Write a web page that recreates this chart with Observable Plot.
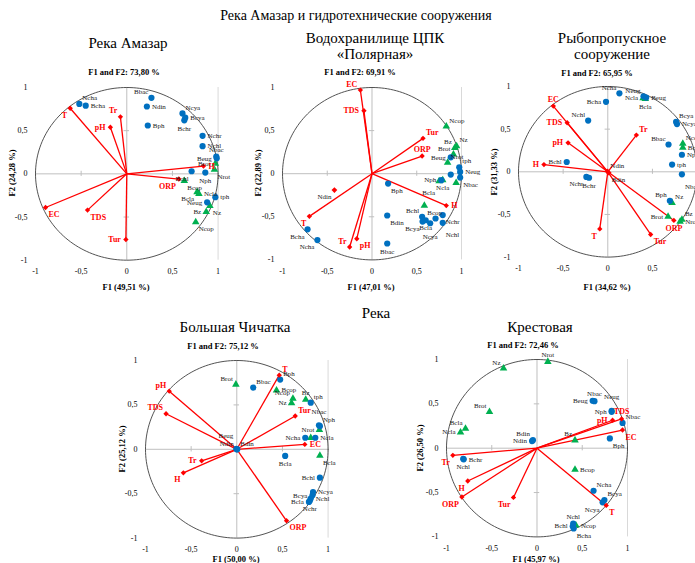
<!DOCTYPE html>
<html><head><meta charset="utf-8">
<script src="https://cdn.jsdelivr.net/npm/d3@7"></script>
<script src="https://cdn.jsdelivr.net/npm/@observablehq/plot@0.6"></script>
<style>
html,body{margin:0;padding:0;background:#fff;overflow:hidden}
#root{position:relative;width:695px;height:563px;overflow:hidden;font-family:"Liberation Serif","Times New Roman","DejaVu Serif",serif}
.t{position:absolute;white-space:nowrap;transform:translate(-50%,-50%);color:#000;line-height:1}
.r{position:absolute;white-space:nowrap;transform:translate(-50%,-50%) rotate(-90deg);color:#000;line-height:1;font-weight:bold;font-size:8.5px}
</style></head><body><div id="root"></div>
<script>
// ---------- titles ----------
const mainTitle = "Река Амазар и гидротехнические сооружения";
const riverTitle = "Река";
const panelHeads = [["Река Амазар"],["Водохранилище ЦПК","«Полярная»"],["Рыбопропускное","сооружение"],["Большая Чичатка"],["Крестовая"]];
const panelSubs = ["F1 and F2: 73,80 %","F1 and F2: 69,91 %","F1 and F2: 65,95 %","F1 and F2: 75,12 %","F1 and F2: 72,46 %"];
const xTitles = ["F1 (49,51 %)","F1 (47,01 %)","F1 (34,62 %)","F1 (50,00 %)","F1 (45,97 %)"];
const yTitles = ["F2 (24,28 %)","F2 (22,89 %)","F2 (31,33 %)","F2 (25,12 %)","F2 (26,50 %)"];
const tickValues = [-1,-0.5,0,0.5,1];

// ---------- Panel 1: Река Амазар ----------
const amazarVars = [["T",-0.62,0.76],["Tr",-0.07,0.66],["pH",-0.18,0.54],["H",0.84,0.09],["ORP",0.57,-0.06],["EC",-0.89,-0.39],["TDS",-0.43,-0.42],["Tur",-0.01,-0.76]];
const amazarVarsLab = ["bl","tl","l","r","bl","br","br","l"];
const amazarRed = [];
const amazarRedLab = [];
const amazarPhyto = [["Ncha",-0.52,0.81],["Bcha",-0.45,0.79],["Bbac",0.27,0.88],["Ndin",0.22,0.78],["Bph",0.23,0.56],["Ncya",0.61,0.70],["Bcya",0.64,0.65],["Bchr",0.63,0.62],["Nchr",0.83,0.44],["Nchl",0.83,0.32],["Nbac",0.98,0.20],["Beug",0.985,0.18],["Bchl",0.71,0.03],["Nph",0.86,0.015],["tph",0.97,-0.27],["Neug",0.88,-0.33]];
const amazarPhytoLab = ["tr","r","tl","r","r","tr","r","b","r","r","t","l","bl","b","r","l"];
const amazarZoo = [["Brot",0.97,0.12],["Nrot",0.96,0.05],["Bcop",0.63,-0.08],["Bcla",0.77,-0.21],["Ncla",0.79,-0.23],["Nz",0.91,-0.37],["Bz",0.87,-0.44],["Ncop",0.755,-0.56]];
const amazarZooLab = ["l","br","br","bl","r","br","l","br"];

// ---------- Panel 2: Водохранилище ЦПК «Полярная» ----------
const polarVars = [["EC",-0.13,0.97],["TDS",-0.09,0.73],["Tur",0.57,0.41],["ORP",0.56,0.205],["H",0.83,-0.37],["T",-0.70,-0.495],["Tr",-0.25,-0.85],["pH",-0.17,-0.755]];
const polarVarsLab = ["tl","l","tr","t","r","bl","tl","br"];
const polarRed = [["Ndin",-0.42,-0.19]];
const polarRedLab = ["bl"];
const polarPhyto = [["Bcha",-0.72,-0.645],["Ncha",-0.61,-0.77],["Bph",0.18,-0.115],["Bdin",0.17,-0.485],["Bbac",0.17,-0.81],["Beug",0.88,0.19],["tph",0.975,0.075],["Neug",0.985,0.02],["Nbac",0.985,-0.045],["",0.88,-0.01],["Nph",0.775,-0.075],["Bchl",0.56,-0.50],["Bcya",0.565,-0.555],["Bcla",0.60,-0.54],["Ncya",0.65,-0.575],["",0.71,-0.52],["Nchr",0.79,-0.48],["Nchl",0.79,-0.57]];
const polarPhytoLab = ["bl","bl","br","br","b","l","tr","r","br","","l","tl","bl","b","b2","","br","br2"];
const polarZoo = [["Ncop",0.83,0.55],["Bz",0.925,0.30],["Nz",0.945,0.32],["Brot",0.91,0.225],["Nrot",0.845,0.13],["Ncla",0.79,-0.075],["Bcla",0.75,-0.085],["",0.94,-0.105],["Bcop",0.585,-0.37]];
const polarZooLab = ["tr","tl","tr","tl","tr","b","bl2","","br"];

// ---------- Panel 3: Рыбопропускное сооружение ----------
const rybVars = [["EC",-0.61,0.77],["TDS",-0.455,0.575],["pH",-0.445,0.34],["H",-0.715,0.085],["Tr",0.32,0.43],["T",-0.09,-0.67],["Tur",0.48,-0.735],["ORP",0.74,-0.57]];
const rybVarsLab = ["t","l","l","l","tr","bl","br","b"];
const rybRed = [["Ndin",-0.005,0.005],["Bdin",0.01,-0.01]];
const rybRedLab = ["tr","br"];
const rybPhyto = [["Ncha",0.13,0.92],["Neug",0.40,0.885],["Beug",0.43,0.87],["Bcha",-0.02,0.82],["Nchl",-0.22,0.60],["Bchl",-0.46,0.115],["Nchr",-0.24,-0.06],["Bchr",-0.21,-0.07],["Bcya",0.765,0.585],["Ncya",0.775,0.56],["Bbac",0.68,0.32],["Nph",0.83,0.20],["tph",0.72,0.085],["Nbac",0.83,-0.03],["Bph",0.695,-0.34]];
const rybPhytoLab = ["tl","tl","r","l","tl","l","bl","b","tr","r","tl","r","r","br2","tl"];
const rybZoo = [["Ncla",0.395,0.865],["Bcla",0.42,0.855],["Ncop",0.84,0.33],["Bcop",0.84,0.285],["Nz",0.72,-0.365],["Brot",0.675,-0.525],["Bz",0.83,-0.56],["Nrot",0.81,-0.585]];
const rybZooLab = ["l","b","tr","r","tr","l","tr","r"];

// ---------- Panel 4: Большая Чичатка ----------
const chichVars = [["T",0.465,0.835],["pH",-0.74,0.655],["TDS",-0.775,0.40],["Tur",0.64,0.375],["EC",0.745,0.055],["Tr",-0.385,-0.13],["H",-0.585,-0.265],["ORP",0.545,-0.805]];
const chichVarsLab = ["tr","tl","tl","tr","r","l","bl","br"];
const chichRed = [];
const chichRedLab = [];
const chichPhyto = [["Bbac",0.18,0.695],["Bph",0.475,0.785],["tph",0.81,0.525],["Nph",0.91,0.26],["Nbac",0.90,0.27],["Ncha",0.75,0.13],["Ncla",0.86,0.13],["Bcla",0.53,-0.075],["Bchl",0.91,-0.32],["Ncya",0.835,-0.481],["Bcya",0.829,-0.518],["Nchl",0.81,-0.555],["Nchr",0.80,-0.58],["Bcla",0.79,-0.593],["Beug",-0.005,0.005],["Ndin",0,0],["Bdin",0.005,0]];
const chichPhytoLab = ["tr","tr","tr","tr","t2","l","r","b","l","r","l","r","b","l","tl2","tl","tr"];
const chichZoo = [["Brot",-0.01,0.73],["Bcop",0.435,0.665],["Ncop",0.615,0.57],["Nz",0.60,0.52],["Bz",0.755,0.56],["Nrot",0.905,0.22],["",0.81,0.13],["Bcla",0.91,-0.07]];
const chichZooLab = ["tl","r","tl","l","t","l","","br"];

// ---------- Panel 5: Крестовая ----------
const krestVars = [["Tr",-0.93,-0.08],["H",-0.765,-0.37],["ORP",-0.83,-0.55],["Tur",-0.26,-0.555],["T",0.765,-0.645],["pH",0.835,0.315],["TDS",0.935,0.33],["EC",0.945,0.205]];
const krestVarsLab = ["bl","bl","bl","bl","br","l","t","br"];
const krestRed = [];
const krestRedLab = [];
const krestPhyto = [["Beug",0.615,0.535],["Nbac",0.635,0.53],["Neug",0.825,0.42],["Nph",0.825,0.41],["Nbac",0.945,0.285],["Bph",0.805,0.11],["Ndin",-0.055,0.08],["Bdin",-0.045,0.09],["Bchr",-0.81,-0.125],["Nchl",-0.815,-0.12],["Ncha",0.625,-0.48],["Bcya",0.745,-0.585],["Ncya",0.725,-0.61],["Nchl",0.40,-0.85],["Bchl",0.395,-0.88],["Bcha",0.405,-0.905]];
const krestPhytoLab = ["l","t","t2","l","tr","br","l","tl","r","b","tr","tr","bl","t","l","br"];
const krestZoo = [["Nz",-0.37,0.90],["Nrot",0.12,0.975],["Brot",-0.525,0.41],["Bcla",-0.79,0.22],["Ncla",-0.845,0.18],["Bz",0.42,0.09],["Bcop",0.42,-0.24],["Ncop",0.43,-0.87]];
const krestZooLab = ["tl","t","tl","tl","l","tl","r","r"];

// ---------- layout ----------
const layout = [
  {px:[34.7,217.3], py:[87,259.7],  head:[128,43],  sub:[124,72],  xt:[126,287], yt:[12,173]},
  {px:[281.5,460.5],py:[86.5,258.9],head:[375,38],  sub:[360,72],  xt:[371,287], yt:[258,173]},
  {px:[518,696.6],  py:[86.4,257],  head:[612,38],  sub:[597,73],  xt:[607,287], yt:[494,172]},
  {px:[144.7,327.3],py:[360.2,537.8],head:[235,327],sub:[223,346], xt:[236,559], yt:[122,449]},
  {px:[445.5,626.5],py:[359.3,536.7],head:[540,327],sub:[523,345], xt:[536,559], yt:[420,448]}
];
const panelData = [
  [amazarVars,amazarVarsLab,amazarRed,amazarRedLab,amazarPhyto,amazarPhytoLab,amazarZoo,amazarZooLab],
  [polarVars,polarVarsLab,polarRed,polarRedLab,polarPhyto,polarPhytoLab,polarZoo,polarZooLab],
  [rybVars,rybVarsLab,rybRed,rybRedLab,rybPhyto,rybPhytoLab,rybZoo,rybZooLab],
  [chichVars,chichVarsLab,chichRed,chichRedLab,chichPhyto,chichPhytoLab,chichZoo,chichZooLab],
  [krestVars,krestVarsLab,krestRed,krestRedLab,krestPhyto,krestPhytoLab,krestZoo,krestZooLab]
];

const OFF = {r:[5,0,"start"], l:[-5,0,"end"], t:[0,-7,"middle"], b:[0,8,"middle"],
  tr:[3,-6,"start"], tl:[-3,-6,"end"], br:[3,7,"start"], bl:[-3,7,"end"],
  t2:[0,-14,"middle"], b2:[0,13,"middle"], tr2:[3,-13,"start"], tl2:[-3,-13,"end"], br2:[3,12,"start"], bl2:[-4,12,"end"]};

const FONT = "'Liberation Serif','Times New Roman','DejaVu Serif',serif";
const fmt = v => v === 0 ? "0" : String(v).replace(".", ",");
const circle = d3.range(0, 361, 2).map(a => ({x: Math.cos(a * Math.PI / 180), y: Math.sin(a * Math.PI / 180)}));
const RED = "#ff0000", BLUE = "#0070c0", GREEN = "#00b050";

function items(rows, labs) { return rows.map((r, i) => ({n: r[0], x: r[1], y: r[2], d: labs[i]})); }
function labelMarks(list, size, weight, fill) {
  return Object.entries(OFF).map(([code, [dx, dy, anchor]]) =>
    Plot.text(list.filter(d => d.d === code && d.n), {x: "x", y: "y", text: "n", dx, dy, textAnchor: anchor, fontSize: size, fontWeight: weight, fontFamily: FONT, fill}));
}

const root = document.getElementById("root");
const ML = 30, MR = 8, MT = 8, MB = 24;

layout.forEach((L, k) => {
  const [vR, vL, rR, rL, pR, pL, zR, zL] = panelData[k];
  const V = items(vR, vL), R = items(rR, rL), B = items(pR, pL), G = items(zR, zL);
  const w = L.px[1] - L.px[0], h = L.py[1] - L.py[0];
  const svg = Plot.plot({
    width: w + ML + MR, height: h + MT + MB,
    marginLeft: ML, marginRight: MR, marginTop: MT, marginBottom: MB,
    style: {fontFamily: FONT, fontSize: "8px", overflow: "visible", background: "transparent"},
    x: {domain: [-1, 1], ticks: tickValues, tickFormat: fmt, tickSize: 0, tickPadding: 8, label: null},
    y: {domain: [-1, 1], ticks: tickValues, tickFormat: fmt, tickSize: 0, tickPadding: 8, label: null},
    marks: [
      Plot.ruleX([1], {stroke: "#d9d9d9"}),
      Plot.ruleY([0], {stroke: "#bfbfbf"}),
      Plot.ruleX([0], {stroke: "#bfbfbf"}),
      Plot.ruleX([-0.5, 0.5], {y1: -0.03, y2: 0.03, stroke: "#bfbfbf"}),
      Plot.ruleY([-0.5, 0.5], {x1: -0.03, x2: 0.03, stroke: "#bfbfbf"}),
      Plot.line(circle, {x: "x", y: "y", stroke: "#404040", strokeWidth: 0.9}),
      Plot.link(V, {x1: 0, y1: 0, x2: "x", y2: "y", stroke: RED, strokeWidth: 1.3}),
      Plot.dot(G, {x: "x", y: "y", symbol: "triangle", r: 2.8, fill: GREEN}),
      Plot.dot(B, {x: "x", y: "y", r: 3.1, fill: BLUE}),
      Plot.dot(V, {x: "x", y: "y", symbol: "diamond2", r: 2.4, fill: RED}),
      Plot.dot(R, {x: "x", y: "y", symbol: "diamond2", r: 2.6, fill: RED}),
      ...labelMarks(B, 7, "normal", "#1a1a1a"),
      ...labelMarks(G, 7, "normal", "#1a1a1a"),
      ...labelMarks(R, 7, "normal", "#1a1a1a"),
      ...labelMarks(V, 8, "bold", RED)
    ]
  });
  svg.style.position = "absolute";
  svg.style.left = (L.px[0] - ML) + "px";
  svg.style.top = (L.py[0] - MT) + "px";
  svg.style.maxWidth = "none";
  root.appendChild(svg);
});

function addText(txt, x, y, size, weight, cls) {
  const d = document.createElement("div");
  d.className = cls || "t";
  d.textContent = txt;
  d.style.left = x + "px"; d.style.top = y + "px";
  if (size) d.style.fontSize = size + "px";
  if (weight) d.style.fontWeight = weight;
  root.appendChild(d);
}
addText(mainTitle, 356, 16, 14);
addText(riverTitle, 376, 313, 15);
layout.forEach((L, k) => {
  const hs = panelHeads[k];
  hs.forEach((s, i) => addText(s, L.head[0], L.head[1] + i * 16, 15));
  addText(panelSubs[k], L.sub[0], L.sub[1], 8.5, "bold");
  addText(xTitles[k], L.xt[0], L.xt[1], 8.5, "bold");
  addText(yTitles[k], L.yt[0], L.yt[1], null, null, "r");
});
</script></body></html>
